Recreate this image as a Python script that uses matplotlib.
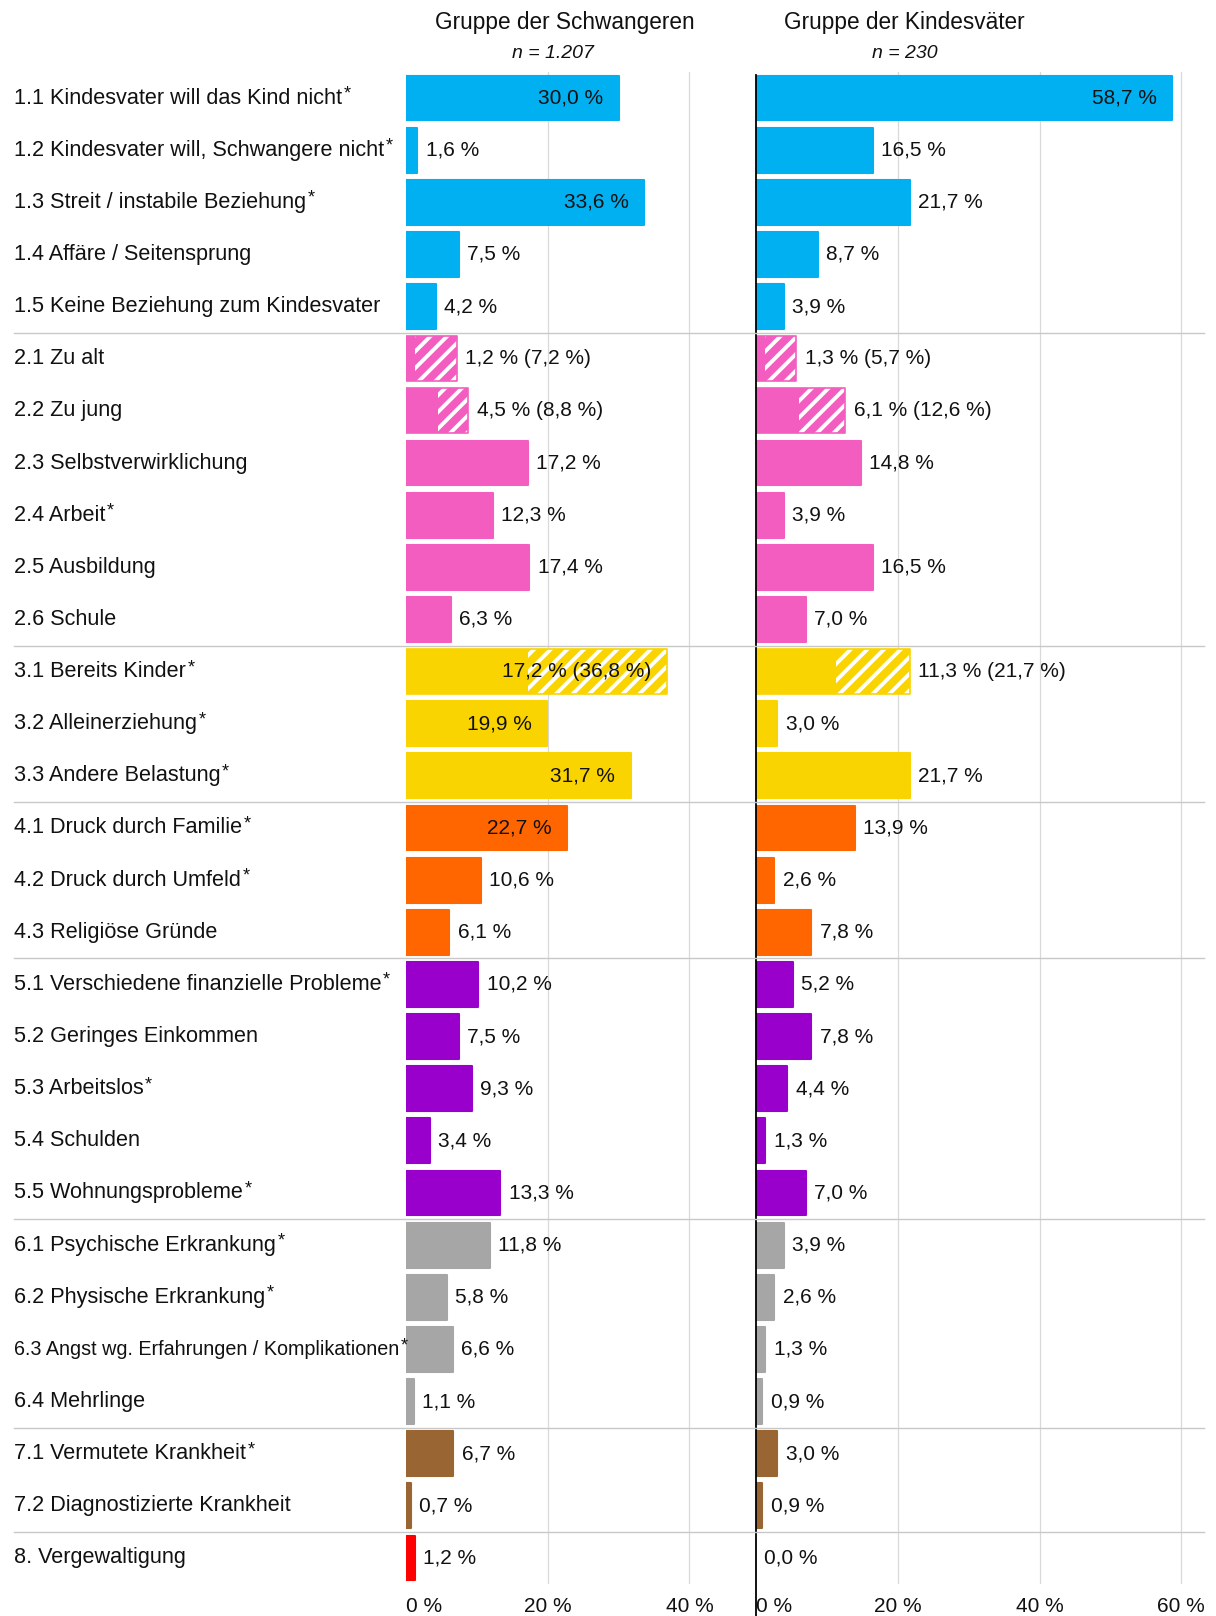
import matplotlib
matplotlib.use("Agg")
import matplotlib.pyplot as plt
from matplotlib.lines import Line2D
from matplotlib.transforms import blended_transform_factory
import numpy as np

plt.rcParams['font.family'] = ['Liberation Sans', 'DejaVu Sans']
plt.rcParams['hatch.linewidth'] = 2.8

labels = [
    "1.1 Kindesvater will das Kind nicht", "1.2 Kindesvater will, Schwangere nicht",
    "1.3 Streit / instabile Beziehung", "1.4 Affäre / Seitensprung",
    "1.5 Keine Beziehung zum Kindesvater",
    "2.1 Zu alt", "2.2 Zu jung", "2.3 Selbstverwirklichung", "2.4 Arbeit",
    "2.5 Ausbildung", "2.6 Schule",
    "3.1 Bereits Kinder", "3.2 Alleinerziehung", "3.3 Andere Belastung",
    "4.1 Druck durch Familie", "4.2 Druck durch Umfeld", "4.3 Religiöse Gründe",
    "5.1 Verschiedene finanzielle Probleme", "5.2 Geringes Einkommen",
    "5.3 Arbeitslos", "5.4 Schulden", "5.5 Wohnungsprobleme",
    "6.1 Psychische Erkrankung", "6.2 Physische Erkrankung",
    "6.3 Angst wg. Erfahrungen / Komplikationen", "6.4 Mehrlinge",
    "7.1 Vermutete Krankheit", "7.2 Diagnostizierte Krankheit",
    "8. Vergewaltigung",
]
starred = [1, 1, 1, 0, 0,
           0, 0, 0, 1, 0, 0,
           1, 1, 1,
           1, 1, 0,
           1, 0, 1, 0, 1,
           1, 1, 1, 0,
           1, 0,
           0]
groups = [1, 1, 1, 1, 1,
          2, 2, 2, 2, 2, 2,
          3, 3, 3,
          4, 4, 4,
          5, 5, 5, 5, 5,
          6, 6, 6, 6,
          7, 7,
          8]

schwangere = [30.0, 1.6, 33.6, 7.5, 4.2,
              1.2, 4.5, 17.2, 12.3, 17.4, 6.3,
              17.2, 19.9, 31.7,
              22.7, 10.6, 6.1,
              10.2, 7.5, 9.3, 3.4, 13.3,
              11.8, 5.8, 6.6, 1.1,
              6.7, 0.7,
              1.2]
schwangere_total = [None] * 29
schwangere_total[5] = 7.2
schwangere_total[6] = 8.8
schwangere_total[11] = 36.8

vaeter = [58.7, 16.5, 21.7, 8.7, 3.9,
          1.3, 6.1, 14.8, 3.9, 16.5, 7.0,
          11.3, 3.0, 21.7,
          13.9, 2.6, 7.8,
          5.2, 7.8, 4.4, 1.3, 7.0,
          3.9, 2.6, 1.3, 0.9,
          3.0, 0.9,
          0.0]
vaeter_total = [None] * 29
vaeter_total[5] = 5.7
vaeter_total[6] = 12.6
vaeter_total[11] = 21.7

panel_titles = ["Gruppe der Schwangeren", "Gruppe der Kindesväter"]
panel_n = ["n = 1.207", "n = 230"]
left_ticks = [0, 20, 40]
right_ticks = [0, 20, 40, 60]

group_colors = {1: "#00B0F0", 2: "#F35DBF", 3: "#FAD400", 4: "#FF6600",
                5: "#9900CC", 6: "#A6A6A6", 7: "#996633", 8: "#FF0000"}

W, H = 1216, 1616
fig = plt.figure(figsize=(W / 100, H / 100), dpi=100)

top_px, bot_px = 72, 1584
ax_b = 1 - bot_px / H
ax_h = (bot_px - top_px) / H
ax1 = fig.add_axes([406 / W, ax_b, 350 / W, ax_h])
ax2 = fig.add_axes([756 / W, ax_b, 448 / W, ax_h])

n = len(labels)
ypos = np.arange(n)
BH = 0.86

def fmt(v):
    return f"{v:.1f}".replace(".", ",") + " %"

def draw_panel(ax, vals, totals, xmax, ticks, inside_thr):
    ax.set_xlim(0, xmax)
    ax.set_ylim(n - 0.5, -0.5)
    for s in ax.spines.values():
        s.set_visible(False)
    ax.set_yticks([])
    for t in ticks[1:]:
        ax.axvline(t, color="#d9d9d9", lw=0.9, zorder=0)
    for i in range(n):
        c = group_colors[groups[i]]
        v = vals[i]
        tot = totals[i]
        if tot is not None:
            ax.barh(ypos[i], tot, height=BH, color=c, hatch="//",
                    edgecolor="white", linewidth=0, zorder=2)
            ax.barh(ypos[i], v, height=BH, color=c, linewidth=0, zorder=3)
            ax.barh(ypos[i], tot, height=BH, fill=False, edgecolor=c,
                    linewidth=1.2, joinstyle="round", zorder=4)
            txt = fmt(v) + " (" + fmt(tot)[:-2] + " %)"
            length = tot
        else:
            if v > 0:
                ax.barh(ypos[i], v, height=BH, color=c, edgecolor=c,
                        linewidth=1.5, joinstyle="round", zorder=3)
            txt = fmt(v)
            length = v
        if length >= inside_thr:
            ax.annotate(txt, xy=(length, ypos[i]), xytext=(-11, 0),
                        textcoords="offset points", ha="right", va="center",
                        fontsize=15, color="#111111", zorder=5)
        else:
            ax.annotate(txt, xy=(length, ypos[i]), xytext=(6, 0),
                        textcoords="offset points", ha="left", va="center",
                        fontsize=15, color="#111111", zorder=5)
    ax.set_xticks(ticks)
    ax.set_xticklabels([f"{t} %" for t in ticks], fontsize=15, color="#111111")
    ax.tick_params(axis="x", length=0, pad=9)
    ax.get_xticklabels()[0].set_horizontalalignment("left")

draw_panel(ax1, schwangere, schwangere_total, 49.4, left_ticks, 19)
draw_panel(ax2, vaeter, vaeter_total, 63.2, right_ticks, 40)

# black zero line of right panel, extending to the figure bottom
ax2.axvline(0, ymin=-(H - bot_px) / (bot_px - top_px), ymax=0.998,
            color="black", lw=1.3, clip_on=False, zorder=6)

# category labels
tr = blended_transform_factory(fig.transFigure, ax1.transData)
for i in range(n):
    fs = 14.2 if i == 24 else 15.6
    t = ax1.text(14 / W, ypos[i], labels[i], transform=tr, ha="left",
                 va="center", fontsize=fs, color="#111111")
    if starred[i]:
        ax1.annotate("*", xy=(1, 1), xycoords=t, xytext=(1.0, 1.5),
                     textcoords="offset points", ha="left", va="top",
                     fontsize=13, color="#111111")

# group separators
bounds = [i for i in range(1, n) if groups[i] != groups[i - 1]]
for b in bounds:
    fig.add_artist(Line2D([14 / W, 1204 / W], [b - 0.5, b - 0.5],
                          transform=tr, color="#c8c8c8", lw=1.0, zorder=1))

# titles
title_x = [565 / W, 904 / W]
n_x = [553 / W, 905 / W]
for tx, nx, ttl, nn in zip(title_x, n_x, panel_titles, panel_n):
    fig.text(tx, 1 - 23 / H, ttl, ha="center", va="center", fontsize=16.3,
             color="#111111")
    fig.text(nx, 1 - 53 / H, nn, ha="center", va="center", fontsize=14,
             style="italic", color="#111111")

fig.savefig("out.png", dpi=100)
